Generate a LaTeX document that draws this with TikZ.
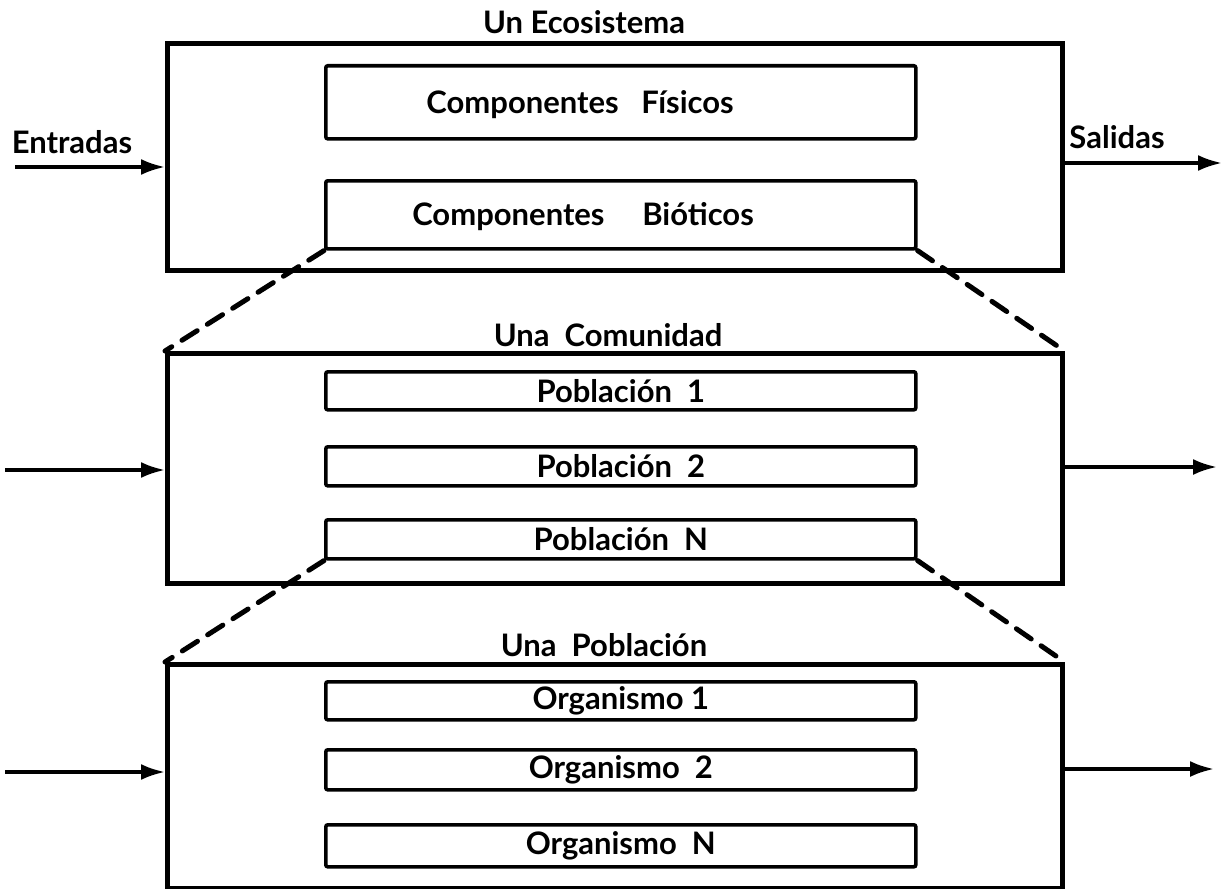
\documentclass[tikz,border=0pt]{standalone}
\usepackage{fontspec}
\setmainfont{Lato}
\usetikzlibrary{arrows.meta}
\begin{document}
\begin{tikzpicture}[x=0.5pt,y=-0.5pt,
  font=\fontsize{15.5}{17}\selectfont\bfseries,
  outer/.style={draw,line width=2.3pt,anchor=north west,inner sep=0pt,minimum width=447.5pt},
  inner/.style={draw,line width=1.8pt,anchor=north west,inner sep=0pt,minimum width=295pt,rounded corners=1pt},
  zoomline/.style={line width=2.5pt,dash pattern=on 9pt off 6pt,line cap=round},
  flow/.style={line width=1.7pt,-{Latex[length=12pt,width=8pt]}},
  lbl/.style={inner sep=0pt}]
\useasboundingbox (0,0) rectangle (1230,888);

% level 1: the ecosystem
\node[lbl] (t1) at (584,22) {Un Ecosistema};
\node[outer,minimum height=113.5pt] (eco) at (165,41) {};
\node[inner,minimum height=36.5pt] (fis) at (324,64) {};
\node[lbl] (fistxt) at (580,105) {Componentes\ \ \ Físicos};
\node[inner,minimum height=34pt] (bio) at (324,179) {};
\node[lbl] (biotxt) at (583,217) {Componentes\ \ \ \ \ Bióticos};

\node[lbl] (ent) at (72,142) {Entradas};
\node[lbl] (sal) at (1117,137) {Salidas};
\coordinate (in1) at (15,167);
\coordinate (out1) at (1222,163);
\draw[flow] (in1) -- (in1 -| eco.west);
\draw[flow] (out1 -| eco.east) -- (out1);

% level 2: the community
\node[lbl] (t2) at (608,335) {Una\ \ Comunidad};
\node[outer,minimum height=115pt] (com) at (165,351) {};
\node[inner,minimum height=19pt] (p1) at (324,370) {Población\ \ 1};
\node[inner,minimum height=19.5pt] (p2) at (324,445) {Población\ \ 2};
\node[inner,minimum height=19.5pt] (pn) at (324,518) {Población\ \ N};
\coordinate (in2) at (5,470);
\coordinate (out2) at (1217,467);
\draw[flow] (in2) -- (in2 -| com.west);
\draw[flow] (out2 -| com.east) -- (out2);

\draw[zoomline] (bio.south west) -- (com.north west);
\draw[zoomline] (bio.south east) -- (com.north east);

% level 3: the population
\node[lbl] (t3) at (604,645) {Una\ \ Población};
\node[outer,minimum height=112pt] (pob) at (165,662) {};
\node[inner,minimum height=19pt] (o1) at (324,680) {Organismo\ 1};
\node[inner,minimum height=20pt] (o2) at (324,748) {Organismo\ \ 2};
\node[inner,minimum height=21pt] (on) at (324,823) {Organismo\ \ N};
\coordinate (in3) at (5,772);
\coordinate (out3) at (1214,769);
\draw[flow] (in3) -- (in3 -| pob.west);
\draw[flow] (out3 -| pob.east) -- (out3);

\draw[zoomline] (pn.south west) -- (pob.north west);
\draw[zoomline] (pn.south east) -- (pob.north east);
\end{tikzpicture}
\end{document}
